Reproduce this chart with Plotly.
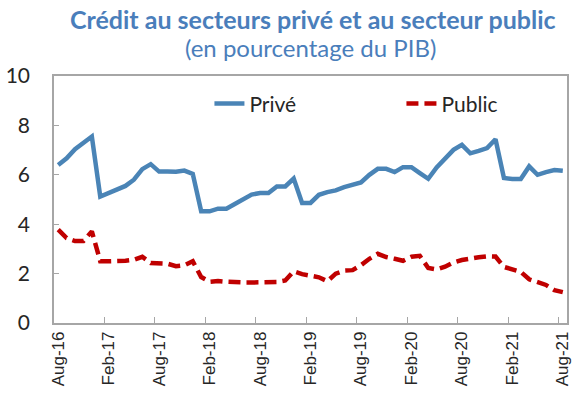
import plotly.graph_objects as go

months = []
mnames = ["Jan", "Feb", "Mar", "Apr", "May", "Jun", "Jul", "Aug", "Sep", "Oct", "Nov", "Dec"]
for k in range(61):
    m = (7 + k) % 12
    y = 16 + (7 + k) // 12
    months.append(f"{mnames[m]}-{y:02d}")

prive = [6.40, 6.67, 7.04, 7.28, 7.55, 5.12, 5.26, 5.42, 5.55, 5.80,
         6.23, 6.43, 6.13, 6.13, 6.12, 6.17, 6.04, 4.52, 4.52, 4.63,
         4.63, 4.82, 5.02, 5.20, 5.26, 5.26, 5.53, 5.53, 5.85, 4.86,
         4.86, 5.19, 5.30, 5.37, 5.50, 5.60, 5.69, 6.00, 6.24, 6.24,
         6.11, 6.31, 6.31, 6.07, 5.84, 6.30, 6.67, 7.01, 7.21, 6.87,
         6.97, 7.08, 7.44, 5.87, 5.83, 5.83, 6.34, 6.00, 6.11, 6.19,
         6.16]

public = [3.78, 3.44, 3.32, 3.32, 3.71, 2.50, 2.50, 2.50, 2.52, 2.56,
          2.68, 2.43, 2.42, 2.40, 2.30, 2.34, 2.50, 1.86, 1.67, 1.70,
          1.67, 1.64, 1.64, 1.64, 1.65, 1.65, 1.66, 1.72, 2.09, 1.98,
          1.93, 1.85, 1.69, 2.00, 2.12, 2.14, 2.34, 2.60, 2.80, 2.67,
          2.60, 2.52, 2.68, 2.72, 2.23, 2.17, 2.28, 2.45, 2.55, 2.62,
          2.66, 2.70, 2.69, 2.27, 2.17, 2.07, 1.77, 1.64, 1.54, 1.33,
          1.25]

title_text = "Crédit au secteurs privé et au secteur public"
subtitle_text = "(en pourcentage du PIB)"
y_ticks = [0, 2, 4, 6, 8, 10]

BLUE = "#4A84B6"
RED = "#C00000"
AXIS = "#A6A6A6"
TITLE_BLUE = "#4A7EBB"

fig = go.Figure()
fig.add_trace(go.Scatter(x=months, y=prive, mode="lines", name="Privé",
                         line=dict(color=BLUE, width=4.5)))
fig.add_trace(go.Scatter(x=months, y=public, mode="lines", name="Public",
                         line=dict(color=RED, width=4.5, dash="12px,6px")))

fig.update_layout(
    width=573, height=416,
    margin=dict(l=54, r=6, t=76, b=93, autoexpand=False),
    paper_bgcolor="white", plot_bgcolor="white",
    showlegend=True,
    legend=dict(orientation="h", x=0.303, y=0.887, xanchor="left", yanchor="middle",
                font=dict(family="Lato", size=21, color="#262626"),
                bgcolor="rgba(0,0,0,0)", entrywidth=147, entrywidthmode="pixels"),
    annotations=[
        dict(text="<b>" + title_text + "</b>", x=0.505, y=1, xref="paper", yref="paper",
             yanchor="bottom", yshift=40, showarrow=False,
             font=dict(family="Lato", size=25, color=TITLE_BLUE)),
        dict(text=subtitle_text, x=0.5, y=1, xref="paper", yref="paper",
             yanchor="bottom", yshift=12, showarrow=False,
             font=dict(family="Lato", size=24, color=TITLE_BLUE)),
    ],
)

fig.update_xaxes(type="category", categoryorder="array", categoryarray=months,
                 range=[-0.5, 60.5], tickmode="linear", tick0=0, dtick=6,
                 tickson="boundaries", ticks="inside", ticklen=6, tickcolor=AXIS,
                 tickangle=-90, showgrid=False, showline=True, linecolor=AXIS,
                 linewidth=1.5, mirror=True, automargin=False,
                 tickfont=dict(family="Liberation Sans", size=17, color="#262626"))
fig.update_yaxes(range=[0, 10], tickvals=y_ticks, ticks="inside", ticklen=5,
                 tickcolor=AXIS, showgrid=False, showline=True, linecolor=AXIS,
                 linewidth=1.5, mirror=True, zeroline=False, ticklabelstandoff=18,
                 automargin=False,
                 tickfont=dict(family="Lato", size=21, color="#262626"))

fig.write_html("out.html", config={"displayModeBar": False},
               post_script="document.body.style.margin='0';document.body.style.overflow='hidden';")
